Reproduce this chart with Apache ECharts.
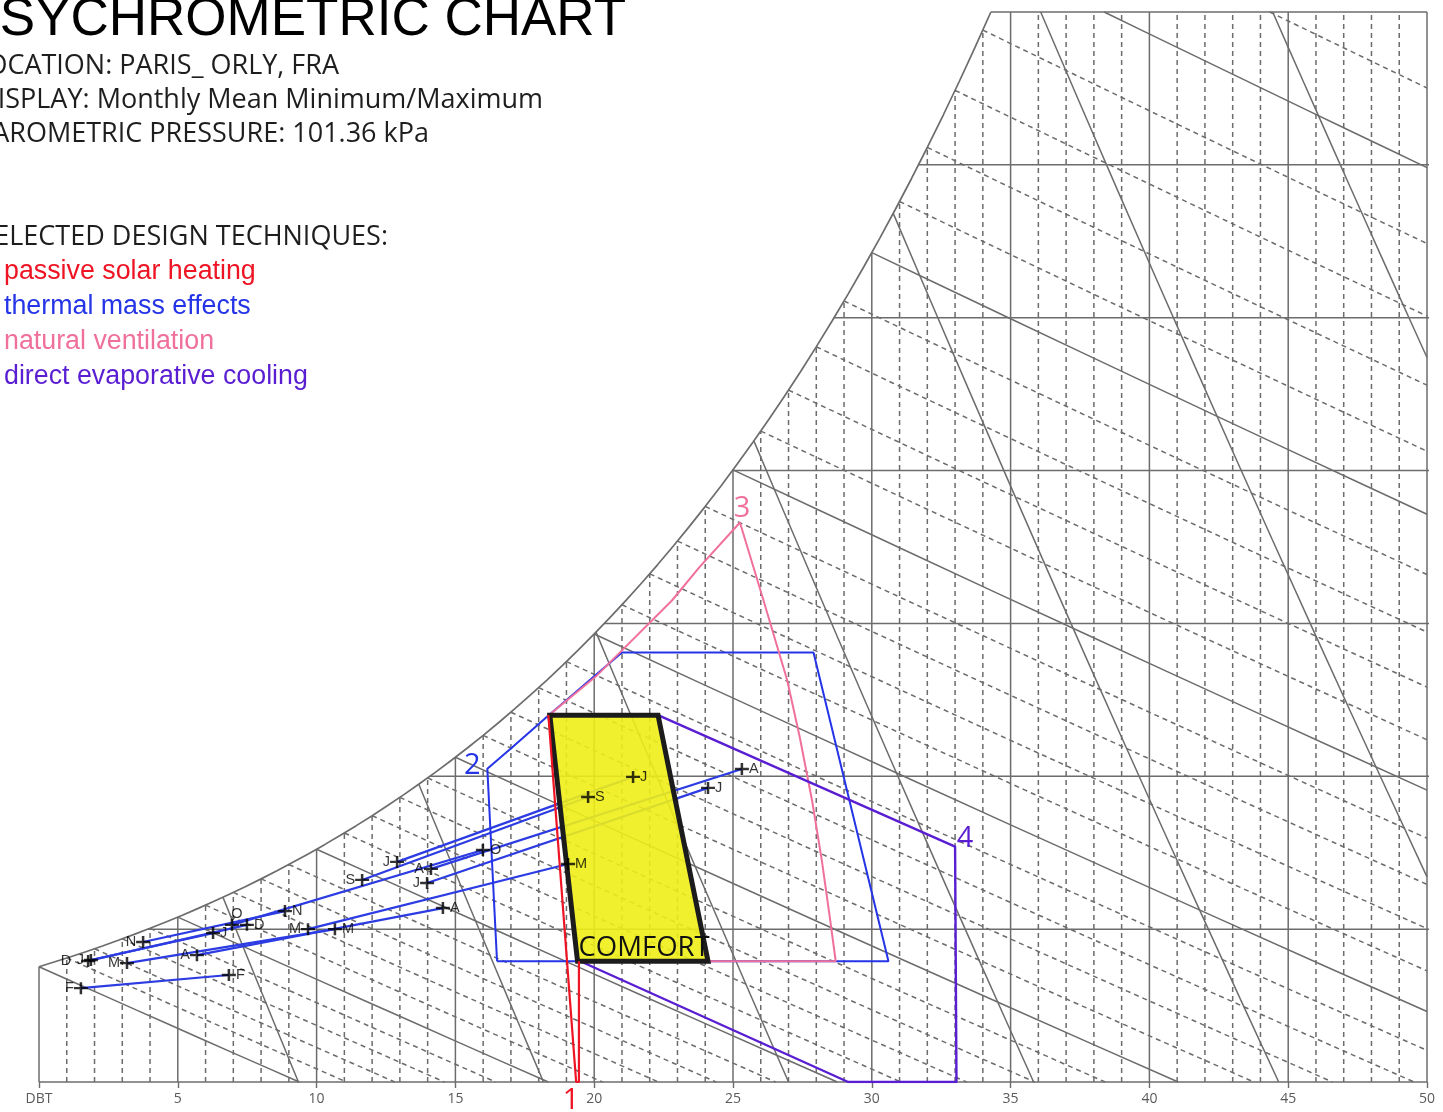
<!DOCTYPE html>
<html>
<head>
<meta charset="utf-8">
<script src="https://cdn.jsdelivr.net/npm/echarts@6/dist/echarts.min.js"></script>
<style>
  html, body { margin: 0; padding: 0; background: #ffffff; }
  #chart { width: 1443px; height: 1112px; }
</style>
</head>
<body>
<div id="chart"></div>
<script>
// ---- Station / chart settings ----
const PRESSURE_KPA = 101.36;
const dbtRange = [0, 50];          // dry bulb temperature, °C
const humRange = [0, 35];          // humidity ratio, g/kg
const dbtTickStep = 5;

// ---- Monthly mean minimum / maximum conditions (DBT °C, humidity ratio g/kg) ----
const monthLetters = ['J', 'F', 'M', 'A', 'M', 'J', 'J', 'A', 'S', 'O', 'N', 'D'];
const minDbt = [1.87, 1.51, 3.17, 5.69, 9.69, 12.90, 13.98, 14.12, 11.64, 6.95, 3.75, 1.77];
const minHum = [3.99, 3.07, 3.89, 4.15, 5.00, 7.20, 6.51, 6.97, 6.61, 5.14, 4.58, 3.96];
const maxDbt = [6.27, 6.84, 10.66, 14.55, 19.06, 21.40, 24.10, 25.32, 19.78, 15.99, 8.86, 7.49];
const maxHum = [4.87, 3.50, 5.00, 5.69, 7.13, 9.98, 9.62, 10.24, 9.32, 7.59, 5.59, 5.14];

// ---- Design zones (DBT °C, humidity ratio g/kg) ----
const comfortZone = [[18.4, 12.0], [22.3, 12.0], [24.1, 3.95], [19.4, 3.95]];
const passiveSolarZone = [[18.35, 12.0], [19.35, 0], [19.45, 0], [19.45, 3.95]];
const thermalMassZone = [[16.5, 3.95], [16.15, 10.25], [17.05, 10.95], [18.3, 11.95], [21.0, 14.05],
  [27.9, 14.05], [30.6, 3.95], [16.5, 3.95]];
const naturalVentZone = [[24.1, 3.95], [28.7, 3.95], [28.5, 5.3], [28.2, 7.25], [27.85, 9.2], [27.4, 11.3],
  [26.95, 13.15], [26.1, 15.75], [25.25, 18.3], [23.8, 16.85], [22.8, 15.75], [20.1, 13.3], [18.3, 11.95]];
const evapCoolingZone = [[19.5, 3.95], [29.15, 0], [33.05, 0], [33.0, 7.7], [22.3, 12.0]];

// ---- Text ----
const titleText = 'PSYCHROMETRIC CHART';
const infoLines = ['LOCATION: PARIS_ ORLY, FRA', 'DISPLAY: Monthly Mean Minimum/Maximum', 'BAROMETRIC PRESSURE: 101.36 kPa'];
const techniquesHeading = 'SELECTED DESIGN TECHNIQUES:';
const techniqueNames = ['passive solar heating', 'thermal mass effects', 'natural ventilation', 'direct evaporative cooling'];

const COL_GRID = '#6c6c6c';
const COL_RED = '#ee1423';
const COL_BLUE = '#2434e6';
const COL_PINK = '#f0709c';
const COL_PURPLE = '#5a1ed2';
const COL_MONTH = '#2c3ce2';

// ---- Psychrometric relations ----
function satPressure(t) { return 0.61094 * Math.exp(17.625 * t / (t + 243.04)); }
function satHum(t) { const p = satPressure(t); return 621.945 * p / (PRESSURE_KPA - p); }
function dewPointFor(w) {
  let lo = -30, hi = 80;
  for (let i = 0; i < 80; i++) { const m = (lo + hi) / 2; if (satHum(m) < w) lo = m; else hi = m; }
  return (lo + hi) / 2;
}
function wetBulbHum(t, twb) {
  const ws = satHum(twb) / 1000;
  return 1000 * ((2501 - 2.326 * twb) * ws - 1.006 * (t - twb)) / (2501 + 1.86 * t - 4.186 * twb);
}
function volumeHum(t, v) {
  return 1000 * ((v * PRESSURE_KPA / (0.287042 * (t + 273.15))) - 1) / 1.6078;
}
function solveDecreasing(f, lo, hi) {   // root of a decreasing function
  for (let i = 0; i < 80; i++) { const m = (lo + hi) / 2; if (f(m) > 0) lo = m; else hi = m; }
  return (lo + hi) / 2;
}
function sample(fn, a, b, n) {
  const pts = [];
  for (let i = 0; i <= n; i++) { const t = a + (b - a) * i / n; pts.push([t, fn(t)]); }
  return pts;
}

const series = [];
function gridLine(points, dashed, width, extra) {
  series.push(Object.assign({
    type: 'line', data: points, symbol: 'none', silent: true, clip: false, z: 1,
    lineStyle: { color: COL_GRID, width: width || 1.5, type: dashed ? [5, 4] : 'solid' }
  }, extra || {}));
}

const wTop = humRange[1];
const tTop = dewPointFor(wTop);
const wTopCap = (t) => Math.min(satHum(t), wTop);

// saturation curve
gridLine(sample(satHum, dbtRange[0], tTop, 60), false, 1.7);
// top, bottom, left, right borders
gridLine([[tTop, wTop], [dbtRange[1], wTop]], false);
gridLine([[dbtRange[0], 0], [dbtRange[1], 0]], false, 1.7);
gridLine([[dbtRange[0], 0], [dbtRange[0], satHum(dbtRange[0])]], false);
gridLine([[dbtRange[1], 0], [dbtRange[1], wTop]], false);

// dry bulb verticals
for (let t = dbtRange[0] + 1; t < dbtRange[1]; t++) {
  gridLine([[t, 0], [t, wTopCap(t)]], t % 5 !== 0);
}
// humidity ratio horizontals
for (let w = 5; w < wTop; w += 5) {
  gridLine([[dewPointFor(w), w], [dbtRange[1] + 0.5, w]], false);
}
// wet bulb lines
for (let twb = 0; twb <= 45; twb++) {
  let start = twb;
  if (satHum(twb) > wTop) start = solveDecreasing(t => wetBulbHum(t, twb) - wTop, twb, 120);
  if (start >= dbtRange[1]) continue;
  const zeroT = solveDecreasing(t => wetBulbHum(t, twb), twb, 200);
  const end = Math.min(zeroT, dbtRange[1]);
  gridLine(sample(t => wetBulbHum(t, twb), start, end, 8), twb % 5 !== 0);
}
// specific volume lines
[0.800, 0.825, 0.850, 0.875, 0.900, 0.925, 0.950].forEach(v => {
  const start = solveDecreasing(t => volumeHum(t, v) - wTopCap(t), -20, 80);
  const zeroT = v * PRESSURE_KPA / 0.287042 - 273.15;
  const end = Math.min(zeroT, dbtRange[1]);
  if (start >= end) return;
  gridLine(sample(t => volumeHum(t, v), start, end, 10), false);
});

// ---- Monthly min-max lines ----
for (let i = 0; i < 12; i++) {
  series.push({
    type: 'line', silent: true, symbol: 'none', z: 3,
    data: [[minDbt[i], minHum[i]], [maxDbt[i], maxHum[i]]],
    lineStyle: { color: COL_MONTH, width: 2.2 }
  });
}

// ---- Zone outlines ----
function zoneLine(points, color, width, z) {
  series.push({ type: 'line', silent: true, symbol: 'none', z: z || 4, data: points,
    lineStyle: { color: color, width: width || 2 } });
}
zoneLine(thermalMassZone, COL_BLUE, 2);
zoneLine(naturalVentZone, COL_PINK, 2);
zoneLine(evapCoolingZone, COL_PURPLE, 2.4);
zoneLine(passiveSolarZone, COL_RED, 2.2, 6);

// ---- Comfort zone + zone numbers ----
series.push({
  type: 'custom', coordinateSystem: 'cartesian2d', silent: true, z: 5,
  data: [[0, 0]],
  renderItem: function (params, api) {
    const pts = comfortZone.map(p => api.coord(p));
    const bl = pts[3];
    const num = (p, txt, color, dx, dy) => {
      const c = api.coord(p);
      return { type: 'text', x: c[0] + dx, y: c[1] + dy, z2: 10,
        style: { text: txt, fill: color, font: '29px "Open Sans"', align: 'center', verticalAlign: 'middle' } };
    };
    return {
      type: 'group',
      children: [
        { type: 'polygon', shape: { points: pts },
          style: { fill: 'rgba(238,238,24,0.9)', stroke: '#1c1c1c', lineWidth: 5, lineJoin: 'miter' } },
        { type: 'text', x: bl[0] + 1, y: bl[1] + 1, z2: 11,
          style: { text: 'COMFORT', fill: '#111', font: '27.5px "Open Sans"', align: 'left', verticalAlign: 'bottom' } },
        num(passiveSolarZone[1], '1', COL_RED, -5, 19),
        num(thermalMassZone[1], '2', COL_BLUE, -15, -3),
        num(naturalVentZone[8], '3', COL_PINK, 2, -14),
        num(evapCoolingZone[3], '4', COL_PURPLE, 10, -8)
      ]
    };
  }
});

// ---- Month markers with letters ----
const labelTweaks = {
  'min11': { offset: [-10, 0] },
  'min9': { position: 'top', offset: [5, 3] },
  'max11': { position: 'right' }
};
const plusPath = 'path://M0,4H4.1V0H5.9V4H10V6H5.9V10H4.1V6H0Z';
const markerData = [];
for (let i = 0; i < 12; i++) {
  const mk = (kind, x, y, pos) => {
    const tw = labelTweaks[kind + i] || {};
    return { value: [x, y], label: Object.assign({ position: pos, formatter: monthLetters[i] }, tw) };
  };
  markerData.push(mk('min', minDbt[i], minHum[i], 'left'));
  markerData.push(mk('max', maxDbt[i], maxHum[i], 'right'));
}
series.push({
  type: 'scatter', silent: true, z: 7, symbol: plusPath, symbolSize: [14, 12],
  itemStyle: { color: '#000' },
  label: { show: true, color: '#000', fontSize: 14.5, fontFamily: '"Liberation Sans", Arial', distance: 0 },
  data: markerData
});

// ---- Header text ----
const infoFont = '27px "Open Sans"';
const graphic = [
  { type: 'text', x: 626, y: 20, style: { text: titleText, fill: '#000', font: '53px "Liberation Sans", Arial', align: 'right', verticalAlign: 'middle' } },
  { type: 'text', x: 339, y: 66, style: { text: infoLines[0], fill: '#1e1e1e', font: infoFont, align: 'right', verticalAlign: 'middle' } },
  { type: 'text', x: 543, y: 100, style: { text: infoLines[1], fill: '#1e1e1e', font: infoFont, align: 'right', verticalAlign: 'middle' } },
  { type: 'text', x: 429, y: 134, style: { text: infoLines[2], fill: '#1e1e1e', font: infoFont, align: 'right', verticalAlign: 'middle' } },
  { type: 'text', x: 388, y: 237, style: { text: techniquesHeading, fill: '#1e1e1e', font: infoFont, align: 'right', verticalAlign: 'middle' } }
];
const techColors = [COL_RED, COL_BLUE, COL_PINK, COL_PURPLE];
techniqueNames.forEach((t, i) => {
  graphic.push({ type: 'text', x: 4, y: 272 + i * 34.8,
    style: { text: t, fill: techColors[i], font: '26.8px "Liberation Sans", Arial', align: 'left', verticalAlign: 'middle' } });
});

const chart = echarts.init(document.getElementById('chart'), null, { renderer: 'canvas' });
chart.setOption({
  animation: false,
  backgroundColor: '#ffffff',
  grid: { left: 39, right: 16, top: 12, bottom: 30 },
  xAxis: {
    type: 'value', min: dbtRange[0], max: dbtRange[1], interval: dbtTickStep,
    axisLine: { show: false }, splitLine: { show: false },
    axisTick: { show: true, length: 6, lineStyle: { color: COL_GRID, width: 1.4 } },
    axisLabel: { color: '#5a5a5a', fontSize: 14, fontFamily: '"Open Sans"', margin: 10,
      formatter: v => (v === 0 ? 'DBT' : String(v)) }
  },
  yAxis: { type: 'value', min: humRange[0], max: humRange[1], show: false },
  graphic: graphic,
  series: series
});
</script>
</body>
</html>
